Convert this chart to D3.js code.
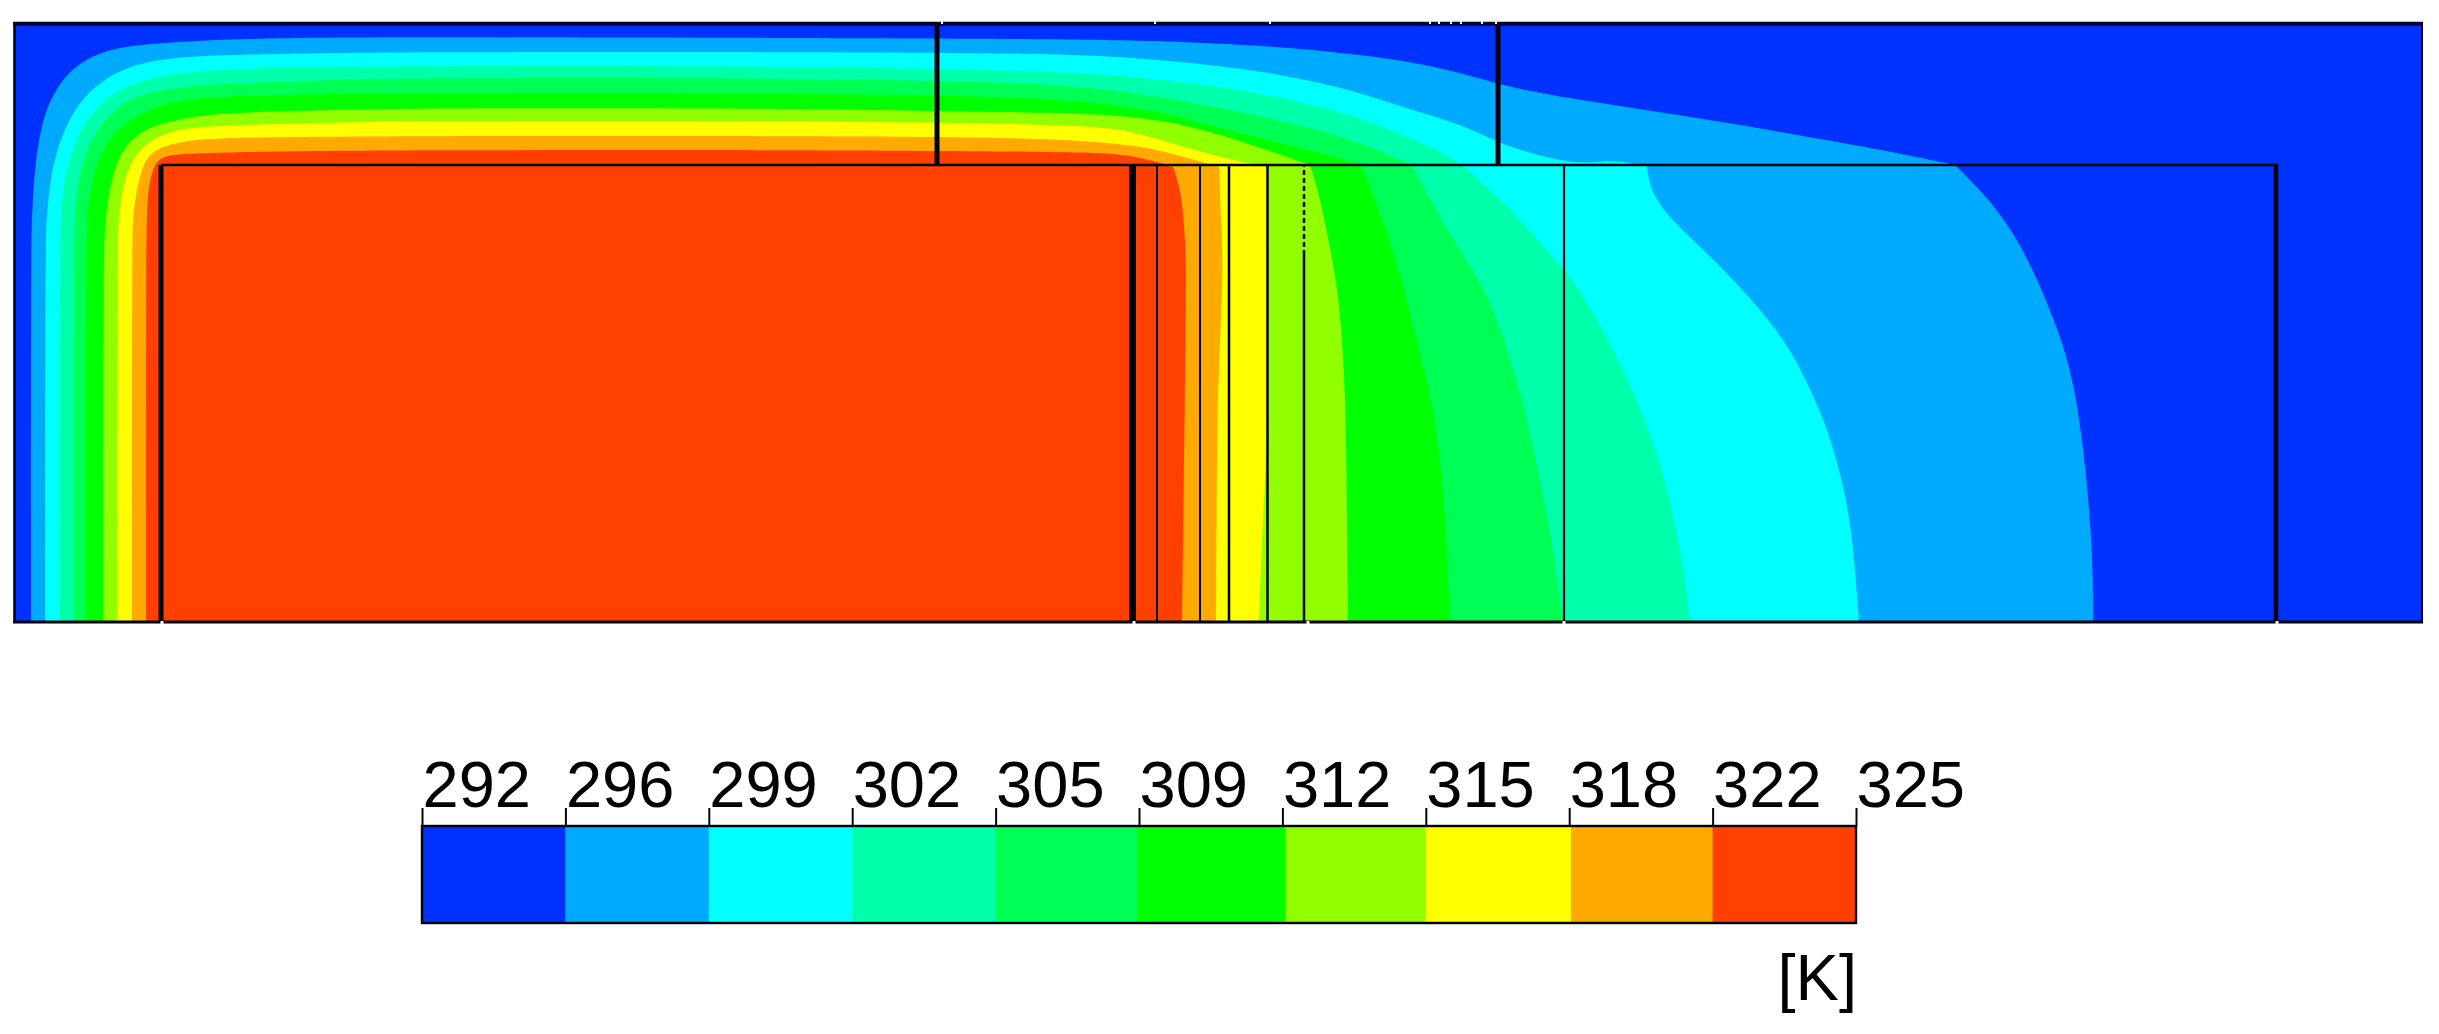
<!DOCTYPE html>
<html>
<head>
<meta charset="utf-8">
<title>Temperature contour</title>
<script src="https://cdn.jsdelivr.net/npm/d3@7/dist/d3.min.js"></script>
<style>
html,body{margin:0;padding:0;background:#fff}
svg{display:block;font-family:"Liberation Sans",Arial,sans-serif}
</style>
</head>
<body>
<div id="chart"></div>
<script>
// Temperature levels (K) and labels of the colour bar
const levelValues = [292, 295.3, 298.6, 301.9, 305.2, 308.5, 311.8, 315.1, 318.4, 321.7, 325];
const bandEdges = [292, 295.3, 298.6, 301.9, 305.2, 308.45, 311.87, 315.1, 318.44, 321.7, 325];
const levelLabels = ["292","296","299","302","305","309","312","315","318","322","325"];
const bandColors = ["#0033ff","#00aaff","#00ffff","#00ffaa","#00ff55","#00ff00","#91ff00","#ffff00","#ffaa00","#ff4000"];
const unitLabel = "[K]";

// Isotherms in domain length units [x, height, isCorner]; each one bounds the hotter region
const iso296 = [[17,0,1],[17,372],[18,409],[21,460],[29,505],[41,532],[59,555],[86,570],[119,577],[173,581],[263,584],[386,585],[786,584],[1067,583],[1174,580],[1271,575],[1347,567],[1398,560],[1449,549],[1486,537],[1546,525],[1666,507],[1785,487],[1869,472],[1941,457,1],[1971,427],[1992,400],[2012,367],[2032,322],[2049,279],[2061,232],[2070,169],[2076,105],[2079,45],[2079,0,1]];
const iso299 = [[31,0,1],[31,372],[33,409],[36,442],[43,472],[53,499],[69,525],[93,545],[123,559],[173,566],[253,568],[386,570],[786,570],[1016,569],[1118,565],[1220,555],[1296,542],[1347,529],[1398,512],[1450,497],[1487,477],[1548,460],[1578,459],[1600,462],[1633,456,1],[1636,432],[1654,405],[1690,372],[1737,324],[1773,279],[1797,232],[1815,189],[1830,135],[1839,82],[1845,0,1]];
const iso302 = [[46,0,1],[46,372],[47,409],[49,435],[56,465],[66,492],[83,515],[103,532],[133,544],[186,552],[286,555],[386,556],[786,556],[990,552],[1118,547],[1245,530],[1322,512],[1373,494],[1424,472],[1449,457],[1495,415],[1530,375],[1550,352],[1573,322],[1612,249],[1642,175],[1660,105],[1672,39],[1675,0,1]];
const iso305 = [[60,0,1],[60,372],[61,409],[64,442],[71,469],[83,492],[99,512],[119,525],[153,534],[219,539],[319,542],[386,544],[786,544],[990,540],[1092,534],[1194,517],[1296,495],[1347,479],[1398,457,1],[1423,409],[1452,362],[1477,322],[1496,262],[1509,222],[1523,155],[1537,89],[1549,0,1]];
const iso309 = [[72,0,1],[72,372],[73,409],[78,442],[84,462],[96,485],[113,500],[136,514],[173,524],[253,527],[386,529],[786,529],[1041,525],[1143,512],[1220,490],[1296,472],[1347,457,1],[1362,419],[1380,369],[1398,302],[1409,252],[1418,222],[1427,155],[1432,89],[1436,0,1]];
const iso312 = [[89,0,1],[89,372],[92,409],[96,435],[103,462],[114,480],[133,494],[159,502],[203,509],[286,511],[386,514],[786,514],[965,510],[1092,509],[1169,499],[1245,475],[1296,457,1],[1305,429],[1316,375],[1325,325],[1330,252],[1332,202],[1334,0,1]];
const iso315 = [[103,0,1],[103,372],[105,409],[109,435],[116,459],[128,475],[143,485],[166,494],[219,497],[319,499],[386,501],[786,501],[1041,498],[1102,494],[1137,485],[1173,474],[1209,464],[1253,455,1],[1253,222],[1252,155],[1248,89],[1245,0,1]];
const iso318 = [[118,0,1],[118,372],[119,409],[123,432],[128,455],[136,469],[153,477],[179,483],[253,485],[386,486],[786,486],[990,485],[1092,480],[1143,473],[1180,462],[1205,455,1],[1207,402],[1209,359],[1207,302],[1203,219],[1202,0,1]];
const iso322 = [[132,0,1],[132,372],[133,409],[134,432],[139,455],[146,464],[159,468],[219,470],[386,472],[786,472],[939,471],[1041,470],[1102,469],[1137,462],[1159,455,1],[1168,429],[1172,369],[1172,335],[1171,235],[1168,0,1]];
const isotherms = [iso296, iso299, iso302, iso305, iso309, iso312, iso315, iso318, iso322];

// Domain geometry
const domainLength = 2408, domainHeight = 600, innerHeight = 457, innerLeft = 147, innerRight = 2262;
const lowerWallX = [147, 1118.5, 1143, 1186, 1215, 1253.5, 1290, 1550, 2262];
const lowerWallPx = [5, 7, 2, 2, 2.5, 2.5, 2.5, 2.2, 4.5];
const upperWallX = [923, 1484];
const dashedWallX = 1290, dashedWallFrom = 367;
const topGapX = [928, 1141, 1256, 1416, 1425, 1437, 1447, 1468, 1482];
const bottomGapX = [148, 1120, 1294, 1550, 2263];

const W = 2439, H = 1034;
const svg = d3.select("#chart").append("svg").attr("width", W).attr("height", H);
const defs = svg.append("defs");
defs.append("filter").attr("id","soft").attr("filterUnits","userSpaceOnUse")
  .attr("x",0).attr("y",0).attr("width",W).attr("height",H)
  .append("feGaussianBlur").attr("stdDeviation",0.55);
const root = svg.append("g").attr("filter","url(#soft)");

const x = d3.scaleLinear().domain([0, domainLength]).range([14, 2422]);
const y = d3.scaleLinear().domain([0, domainHeight]).range([622, 22]);

// Filled bands, painted coldest to hottest; corner points are tripled so the spline keeps them
const plot = root.append("g");
plot.append("rect").attr("x", x(0)).attr("y", y(domainHeight))
  .attr("width", x(domainLength)-x(0)).attr("height", y(0)-y(domainHeight)).attr("fill", bandColors[0]);
const line = d3.line().x(d=>x(d[0])).y(d=>y(d[1])).curve(d3.curveBasis);
const withCorners = pts => pts.flatMap(p => p[2] ? [p,p,p] : [p]);
plot.selectAll("path.band").data(isotherms).join("path").attr("class","band")
  .attr("d", d=>line(withCorners(d))+"Z").attr("fill",(d,i)=>bandColors[i+1]);

// Walls
const ink = "#06040c";
const seg = (g,x1,y1,x2,y2,w,c=ink)=>g.append("line").attr("x1",x(x1)).attr("y1",y(y1)).attr("x2",x(x2)).attr("y2",y(y2)).attr("stroke",c).attr("stroke-width",w);
const walls = root.append("g");
lowerWallX.forEach((wx,i)=>{
  if (wx === dashedWallX) {
    seg(walls,wx,0,wx,dashedWallFrom,lowerWallPx[i]);
    seg(walls,wx,dashedWallFrom,wx,innerHeight,lowerWallPx[i]).attr("stroke-dasharray","5 3");
  } else seg(walls,wx,0,wx,innerHeight,lowerWallPx[i]);
});
upperWallX.forEach(wx=>seg(walls,wx,innerHeight,wx,domainHeight,5));
seg(walls,innerLeft,innerHeight,innerRight+2,innerHeight,2.6);
// Outer frame
seg(walls,-1,domainHeight-1.8,domainLength+1,domainHeight-1.8,4,"#000030");
seg(walls,0.5,0,0.5,domainHeight,2.6,"#000028");
seg(walls,domainLength,0,domainLength,domainHeight,2,"#000028");
seg(walls,-1,0,domainLength+1,0,3);
// White nicks on the outline
topGapX.forEach(g=>seg(walls,g,domainHeight+1,g,domainHeight-2,2,"#fff"));
bottomGapX.forEach(g=>seg(walls,g,-3,g,1,3,"#fff"));

// Colour bar
const barTop = 826, barBottom = 923, tickLen = 18;
const legendX = d3.scaleLinear().domain([292, 325]).range([422, 1856]);
const legend = root.append("g");
legend.selectAll("rect").data(bandColors).join("rect")
  .attr("x",(d,i)=>legendX(bandEdges[i])).attr("y",barTop)
  .attr("width",(d,i)=>legendX(bandEdges[i+1])-legendX(bandEdges[i])+0.5)
  .attr("height",barBottom-barTop).attr("fill",d=>d);
legend.append("rect").attr("x",legendX(292)).attr("y",barTop)
  .attr("width",legendX(325)-legendX(292)).attr("height",barBottom-barTop)
  .attr("fill","none").attr("stroke",ink).attr("stroke-width",2.4);
const axis = d3.axisTop(legendX).tickValues(levelValues).tickFormat((d,i)=>levelLabels[i]).tickSize(tickLen).tickSizeOuter(0);
const ag = svg.append("g").attr("transform",`translate(0,${barTop})`).call(axis);
ag.select(".domain").remove();
ag.selectAll(".tick line").attr("stroke",ink).attr("stroke-width",2);
ag.selectAll(".tick text")
  .attr("text-anchor","start").attr("x",0).attr("y",-tickLen-1).attr("dy",0)
  .attr("font-family",'"Liberation Sans",Arial,sans-serif').attr("font-size",65).attr("fill","#000");
svg.append("text").attr("x",1857).attr("y",1000).attr("text-anchor","end")
  .attr("font-size",65).attr("fill","#000").text(unitLabel);
</script>
</body>
</html>
